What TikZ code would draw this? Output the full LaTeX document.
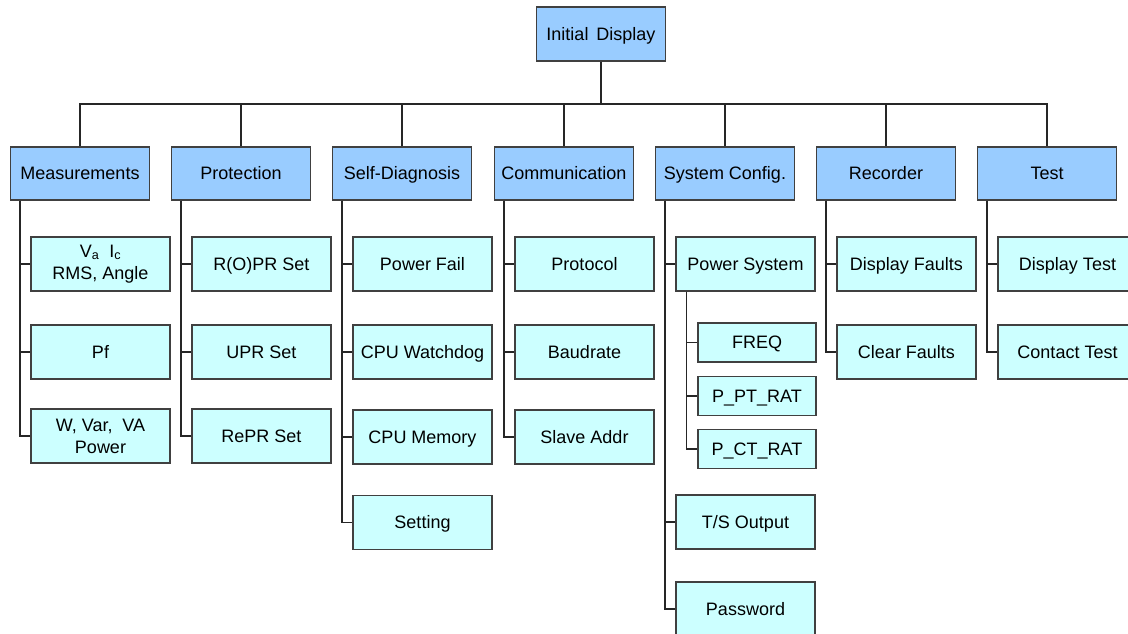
\documentclass[tikz,border=0pt]{standalone}
\usepackage{fontspec}
\setmainfont{Liberation Sans}
\begin{document}
\begin{tikzpicture}[x=1pt,y=-1pt,
  box/.style={draw=black!75,line width=1.2pt,inner sep=0pt,align=center,font=\fontsize{18}{22}\selectfont,text height=16.5pt,text depth=4pt},
  twoline/.style={text height={},text depth={}},
  topbox/.style={box,fill=topc,minimum width=129pt,minimum height=54pt},
  lvone/.style={box,fill=topc,minimum width=139pt,minimum height=53pt},
  leaf/.style={box,fill=leafc,minimum width=139pt,minimum height=54pt},
  small/.style={box,fill=leafc,minimum width=118pt,minimum height=39pt},
  link/.style={draw=black!85,line width=1.2pt}]
\definecolor{topc}{HTML}{99CCFF}
\definecolor{leafc}{HTML}{CCFFFF}
\useasboundingbox (0,0) rectangle (1128,634);
\clip (0,0) rectangle (1128,634);
% top
\node[topbox] (top) at (601,34) {Initial\ \,Display};
% level one
\node[lvone] (m) at (80,173.5) {Measurements};
\node[lvone] (p) at (241,173.5) {Protection};
\node[lvone] (s) at (402,173.5) {Self-Diagnosis};
\node[lvone] (c) at (564,173.5) {Communication};
\node[lvone] (y) at (725,173.5) {System Config.};
\node[lvone] (r) at (886,173.5) {Recorder};
\node[lvone] (t) at (1047,173.5) {Test};
\coordinate (bus) at (601,104);
\draw[link] (top.south) -- (bus);
\draw[link] (m.north) |- (t.north |- bus) -- (t.north);
\foreach \n in {p,s,c,y,r}{\draw[link] (\n.north) -- (\n.north |- bus);}
% Measurements
\node[leaf,twoline] (m1) at (100.5,264) {V\textsubscript{a}\ \ I\textsubscript{c}\\RMS, Angle};
\node[leaf] (m2) at (100.5,352) {Pf};
\node[leaf,twoline] (m3) at (100.5,436) {W, Var,\ \ VA\\Power};
% Protection
\node[leaf] (p1) at (261.5,264) {R(O)PR Set};
\node[leaf] (p2) at (261.5,352) {UPR Set};
\node[leaf] (p3) at (261.5,436) {RePR Set};
% Self-Diagnosis
\node[leaf] (s1) at (422.5,264) {Power Fail};
\node[leaf] (s2) at (422.5,352) {CPU Watchdog};
\node[leaf] (s3) at (422.5,437) {CPU Memory};
\node[leaf] (s4) at (422.5,522.5) {Setting};
% Communication
\node[leaf] (c1) at (584.5,264) {Protocol};
\node[leaf] (c2) at (584.5,352) {Baudrate};
\node[leaf] (c3) at (584.5,437) {Slave Addr};
% System Config
\node[leaf] (y1) at (745.5,264) {Power System};
\node[small] (y11) at (757,342.5) {FREQ};
\node[small] (y12) at (757,396) {P\_PT\_RAT};
\node[small] (y13) at (757,449) {P\_CT\_RAT};
\node[leaf] (y2) at (745.5,522) {T/S Output};
\node[leaf] (y3) at (745.5,609) {Password};
% Recorder
\node[leaf] (r1) at (906.5,264) {Display Faults};
\node[leaf] (r2) at (906.5,352) {Clear Faults};
% Test
\node[leaf] (t1) at (1067.5,264) {Display Test};
\node[leaf] (t2) at (1067.5,352) {Contact Test};
% child connectors
\foreach \pp/\kids in {m/{m1,m2,m3},p/{p1,p2,p3},s/{s1,s2,s3,s4},c/{c1,c2,c3},y/{y1,y2,y3},r/{r1,r2},t/{t1,t2}}{
  \foreach \k in \kids {\draw[link] ([xshift=10pt]\pp.south west) |- (\k.west);}
}
\foreach \k in {y11,y12,y13}{\draw[link] ([xshift=11pt]y1.south west) |- (\k.west);}
\end{tikzpicture}
\end{document}
